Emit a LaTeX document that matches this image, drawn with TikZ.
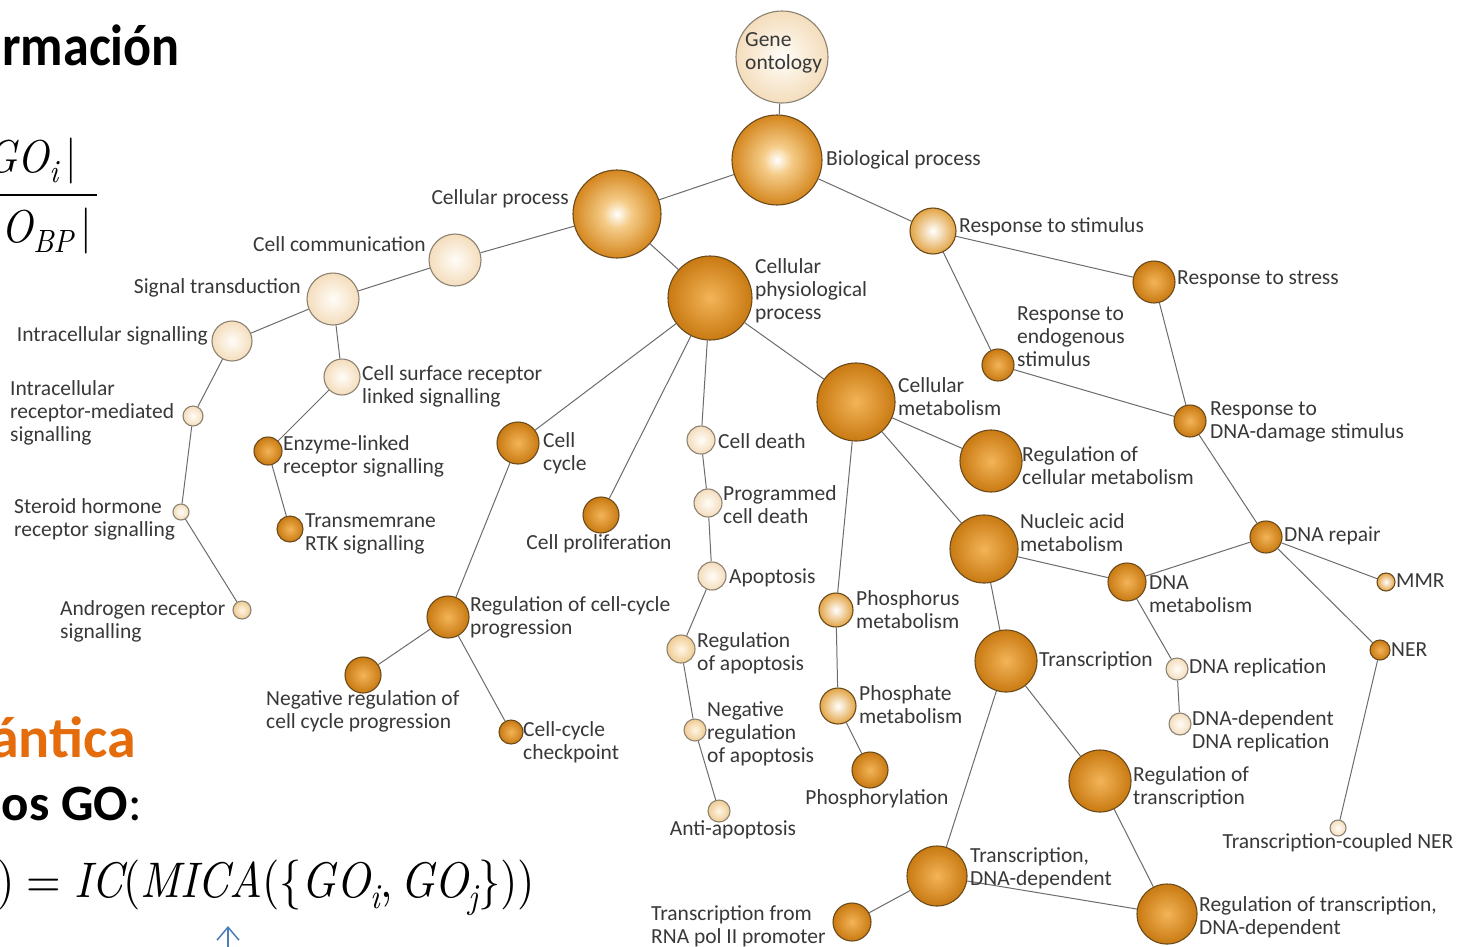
\documentclass[tikz,border=0pt]{standalone}
\usepackage{fontspec}
\setmainfont{Carlito}
\newfontfamily\lmrfont{lmroman10}[Extension=.otf, UprightFont=*-regular, ItalicFont=*-italic, BoldFont=*-bold]
\usetikzlibrary{arrows.meta}
\definecolor{labc}{HTML}{383838}
\definecolor{edgec}{HTML}{6C6C6C}
\definecolor{bOr}{HTML}{6B4A1C}
\definecolor{bCr}{HTML}{8C8272}
\definecolor{oIn}{HTML}{F3B458}
\definecolor{oOut}{HTML}{C97A12}
\definecolor{brOut}{HTML}{D4861E}
\definecolor{brMid}{HTML}{F5CC88}
\definecolor{lOut}{HTML}{E2A444}
\definecolor{pOut}{HTML}{EFCB92}
\definecolor{pIn}{HTML}{FFF6E6}
\definecolor{cOut}{HTML}{F4DDBC}
\definecolor{cIn}{HTML}{FFFDF8}
\definecolor{heado}{HTML}{E46C0A}
\definecolor{arrb}{HTML}{4A7EBB}
\pgfdeclareradialshading{shOr}{\pgfpointorigin}{color(0bp)=(oIn); color(25bp)=(oOut); color(50bp)=(oOut)}
\pgfdeclareradialshading{shBr}{\pgfpointorigin}{color(0bp)=(white); color(8bp)=(brMid); color(25bp)=(brOut); color(50bp)=(brOut)}
\pgfdeclareradialshading{shLt}{\pgfpointorigin}{color(0bp)=(white); color(25bp)=(lOut); color(50bp)=(lOut)}
\pgfdeclareradialshading{shPa}{\pgfpointorigin}{color(0bp)=(pIn); color(25bp)=(pOut); color(50bp)=(pOut)}
\pgfdeclareradialshading{shCr}{\pgfpointorigin}{color(0bp)=(cIn); color(25bp)=(cOut); color(50bp)=(cOut)}
\newcommand\vi[1]{{\itshape #1}}
\newcommand\vsub[1]{\raisebox{-0.22em}{\fontsize{0.7em}{0.7em}\selectfont\itshape #1}}
\tikzset{
  gn/.style={circle, inner sep=0pt, line width=1.1pt, minimum size=#1},
  nOr/.style={gn=#1, draw=bOr, shading=shOr},
  nBr/.style={gn=#1, draw=bOr, shading=shBr},
  nLt/.style={gn=#1, draw=bOr, shading=shLt},
  nPa/.style={gn=#1, draw=bCr, shading=shPa},
  nCr/.style={gn=#1, draw=bCr, shading=shCr},
  lab/.style={inner sep=0pt, align=left, text=labc, font=\fontsize{21.5}{23}\selectfont},
  edge/.style={draw=edgec, line width=1pt},
  head/.style={inner sep=0pt, font=\bfseries\fontsize{58}{58}\selectfont},
  txt/.style={inner sep=0pt, font=\fontsize{#1}{#1}\selectfont},
  frm/.style={inner sep=0pt, font=\lmrfont\fontsize{#1}{#1}\selectfont}
}
\begin{document}
\begin{tikzpicture}[x=1pt,y=-1pt]
\useasboundingbox[fill=white] (0,0) rectangle (1458,946);
% nodes (diameters)
\node[nCr=92pt] (GO) at (782,57) {};
\node[nBr=90pt] (BP) at (777,160) {};
\node[nBr=88pt] (CP) at (617,214) {};
\node[nLt=46pt] (RS) at (933,231) {};
\node[nCr=52pt] (CC) at (455,260) {};
\node[nCr=52pt] (ST) at (333,299) {};
\node[nCr=40pt] (IS) at (232,341) {};
\node[nCr=36pt] (CSR) at (342,377) {};
\node[nCr=20pt] (IRM) at (193,416) {};
\node[nCr=16pt] (SH) at (181,512) {};
\node[nPa=18pt] (AR) at (242,610) {};
\node[nOr=28pt] (EL) at (268,451) {};
\node[nOr=26pt] (RTK) at (290,529) {};
\node[nOr=84pt] (CPP) at (710,298) {};
\node[nOr=42pt] (CCy) at (518,443) {};
\node[nOr=36pt] (CPr) at (601,515) {};
\node[nCr=28pt] (CD) at (701,440) {};
\node[nCr=28pt] (PCD) at (708,503) {};
\node[nCr=28pt] (Apo) at (712,576) {};
\node[nPa=28pt] (RA) at (681,649) {};
\node[nPa=22pt] (NRA) at (695,730) {};
\node[nPa=22pt] (AA) at (719,811) {};
\node[nOr=42pt] (RCC) at (448,617) {};
\node[nOr=36pt] (NRC) at (363,675) {};
\node[nOr=24pt] (CCC) at (511,732) {};
\node[nOr=78pt] (CM) at (856,402) {};
\node[nLt=34pt] (PhM) at (836,610) {};
\node[nLt=36pt] (PtM) at (838,706) {};
\node[nOr=36pt] (Phy) at (870,770) {};
\node[nOr=62pt] (RCM) at (991,461) {};
\node[nOr=68pt] (NAM) at (984,549) {};
\node[nOr=62pt] (Tr) at (1006,661) {};
\node[nOr=62pt] (RT) at (1100,781) {};
\node[nOr=60pt] (TDD) at (937,876) {};
\node[nOr=38pt] (RNA) at (852,922) {};
\node[nOr=60pt] (RTD) at (1167,914) {};
\node[nOr=38pt] (DM) at (1127,582) {};
\node[nOr=32pt] (DR) at (1266,537) {};
\node[nLt=18pt] (MMR) at (1386,582) {};
\node[nOr=20pt] (NER) at (1380,650) {};
\node[nCr=16pt] (TCN) at (1338,828) {};
\node[nCr=22pt] (DRp) at (1177,669) {};
\node[nCr=22pt] (DDR) at (1180,724) {};
\node[nOr=42pt] (RSt) at (1154,282) {};
\node[nOr=32pt] (REs) at (998,365) {};
\node[nOr=32pt] (RDD) at (1190,421) {};
% edges
\foreach \a/\b in {GO/BP, BP/CP, BP/RS, CP/CC, CP/CPP, CC/ST, ST/IS, ST/CSR, IS/IRM, IRM/SH, SH/AR,
  CSR/EL, EL/RTK, CPP/CCy, CPP/CPr, CPP/CD, CPP/CM, CCy/RCC, RCC/NRC, RCC/CCC, CD/PCD, PCD/Apo,
  Apo/RA, RA/NRA, NRA/AA, CM/PhM, PhM/PtM, PtM/Phy, CM/RCM, CM/NAM, NAM/DM, NAM/Tr, DM/DR, DM/DRp,
  DRp/DDR, DR/MMR, DR/NER, NER/TCN, Tr/RT, Tr/TDD, TDD/RNA, TDD/RTD, RT/RTD, RS/RSt, RS/REs,
  RSt/RDD, REs/RDD, RDD/DR}
  \draw[edge] (\a) -- (\b);
% labels
\node[lab, anchor=west] (tGO) at (745,53) {Gene\\ontology};
\node[lab, anchor=west] (tBP) at (826,160) {Biological process};
\node[lab, anchor=east] (tCP) at (569,199) {Cellular process};
\node[lab, anchor=east] (tCC) at (426,244) {Cell communication};
\node[lab, anchor=east] (tST) at (301,288) {Signal transduction};
\node[lab, anchor=east] (tIS) at (208,336) {Intracellular signalling};
\node[lab, anchor=west] (tIRM) at (10,413) {Intracellular\\receptor-mediated\\signalling};
\node[lab, anchor=west] (tSH) at (14,519) {Steroid hormone\\receptor signalling};
\node[lab, anchor=west] (tAR) at (60,621) {Androgen receptor\\signalling};
\node[lab, anchor=west] (tCSR) at (362,386) {Cell surface receptor\\linked signalling};
\node[lab, anchor=west] (tEL) at (283,456) {Enzyme-linked\\receptor signalling};
\node[lab, anchor=west] (tRTK) at (305,534) {Transmemrane\\RTK signalling};
\node[lab, anchor=west] (tCCy) at (543,453) {Cell\\cycle};
\node[lab] (tCPr) at (599,544) {Cell proliferation};
\node[lab, anchor=west] (tCPP) at (755,291) {Cellular\\physiological\\process};
\node[lab, anchor=west] (tCM) at (898,397) {Cellular\\metabolism};
\node[lab, anchor=west] (tCD) at (718,441) {Cell death};
\node[lab, anchor=west] (tPCD) at (723,505) {Programmed\\cell death};
\node[lab, anchor=west] (tApo) at (729,578) {Apoptosis};
\node[lab, anchor=west] (tRCC) at (470,617) {Regulation of cell-cycle\\progression};
\node[lab, anchor=west] (tNRC) at (266,711) {Negative regulation of\\cell cycle progression};
\node[lab, anchor=west] (tCCC) at (523,742) {Cell-cycle\\checkpoint};
\node[lab, anchor=west] (tRA) at (697,653) {Regulation\\of apoptosis};
\node[lab, anchor=west] (tNRA) at (707,734) {Negative\\regulation\\of apoptosis};
\node[lab] (tAA) at (733,830) {Anti-apoptosis};
\node[lab, anchor=west] (tPhM) at (856,610) {Phosphorus\\metabolism};
\node[lab, anchor=west] (tPtM) at (859,705) {Phosphate\\metabolism};
\node[lab] (tPhy) at (877,799) {Phosphorylation};
\node[lab, anchor=west] (tRS) at (959,227) {Response to stimulus};
\node[lab, anchor=west] (tRSt) at (1177,279) {Response to stress};
\node[lab, anchor=west] (tREs) at (1017,337) {Response to\\endogenous\\stimulus};
\node[lab, anchor=west] (tRDD) at (1210,422) {Response to\\DNA-damage stimulus};
\node[lab, anchor=west] (tRCM) at (1022,466) {Regulation of\\cellular metabolism};
\node[lab, anchor=west] (tNAM) at (1020,533) {Nucleic acid\\metabolism};
\node[lab, anchor=west] (tDR) at (1284,536) {DNA repair};
\node[lab, anchor=west] (tDM) at (1149,594) {DNA\\metabolism};
\node[lab, anchor=west] (tMMR) at (1396,581) {MMR};
\node[lab, anchor=west] (tNER) at (1391,650) {NER};
\node[lab, anchor=west] (tTr) at (1039,661) {Transcription};
\node[lab, anchor=west] (tDRp) at (1189,668) {DNA replication};
\node[lab, anchor=west] (tDDR) at (1192,731) {DNA-dependent\\DNA replication};
\node[lab, anchor=west] (tRT) at (1133,787) {Regulation of\\transcription};
\node[lab] (tTCN) at (1338,843) {Transcription-coupled NER};
\node[lab, anchor=west] (tTDD) at (970,868) {Transcription,\\DNA-dependent};
\node[lab, anchor=west] (tRTD) at (1199,917) {Regulation of transcription,\\DNA-dependent};
\node[lab, anchor=west] (tRNA) at (651,926) {Transcription from\\RNA pol II promoter};
% slide text (cropped at left)
\node[head, anchor=base east] (h1) at (180,65) {\scalebox{0.9}[1]{rmación}};
\node[head, anchor=base east, text=heado] (h2) at (136,757) {ántica};
\node[txt=51, anchor=base east] (h3) at (142,820) {\textbf{os GO}:};
\node[frm=46, anchor=base east] (fnum) at (77,172) {\scalebox{0.9}[1]{\vi{GO}\vsub{i}\,|}};
\node[frm=46, anchor=base east] (fden) at (92,242) {\scalebox{0.9}[1]{\vi{O}\vsub{BP}\,|}};
\coordinate (fb1) at (0,195);
\coordinate (fb2) at (97,195);
\draw[line width=2pt] (fb1) -- (fb2);
\node[frm=50, anchor=base west] (f2) at (-3,897) {\scalebox{0.89}[1]{)\hspace{0.28em}=\hspace{0.28em}\vi{IC}(\vi{MICA}(\{\vi{GO}\vsub{i},\hspace{0.17em}\vi{GO}\vsub{j}\}))}};
\coordinate (a1) at (228,950);
\coordinate (a2) at (228,926);
\draw[arrb, line width=1.5pt, -{Straight Barb[length=13pt,width=22pt]}] (a1) -- (a2);
\end{tikzpicture}
\end{document}
